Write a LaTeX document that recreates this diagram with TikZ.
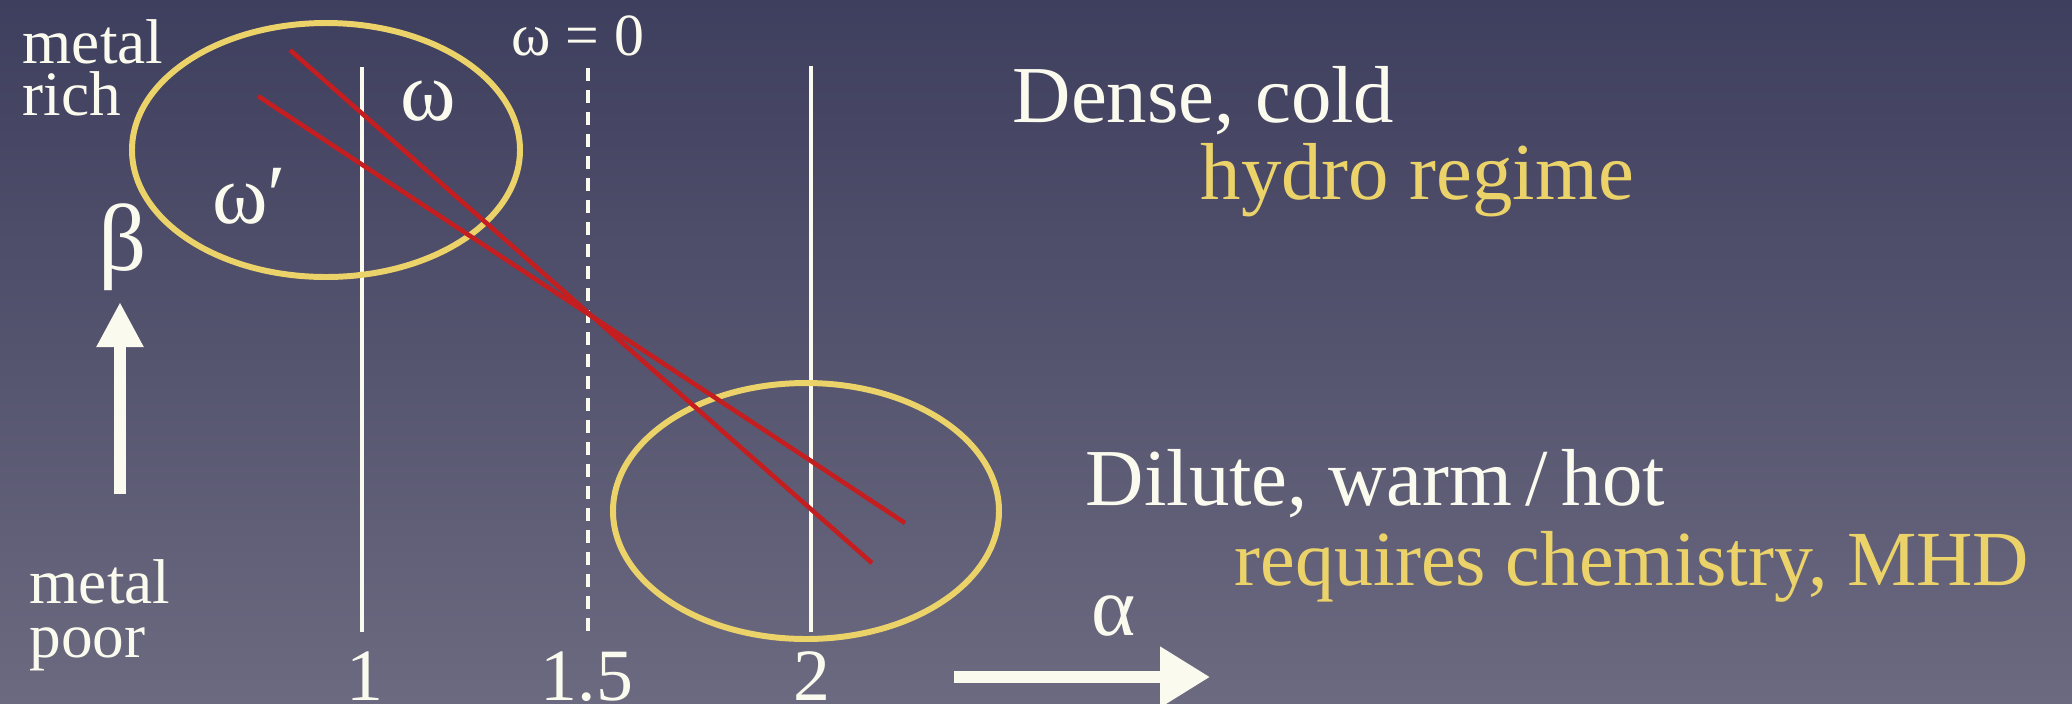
\documentclass[tikz,border=0pt]{standalone}
\usepackage{fontspec}
\setmainfont{Liberation Serif}
\usepackage{tikz}
\usetikzlibrary{arrows.meta}
\definecolor{BgTop}{RGB}{62,62,94}
\definecolor{BgBot}{RGB}{108,106,128}
\definecolor{Cream}{RGB}{250,250,238}
\definecolor{HiYellow}{RGB}{236,211,105}
\definecolor{LineRed}{RGB}{196,30,32}

\begin{document}
\begin{tikzpicture}[
          txt/.style={inner sep=0pt, text=Cream, font=\fontsize{23}{26}\selectfont},
          hi/.style={txt, text=HiYellow},
          lbl/.style={inner sep=0pt, text=Cream, font=\fontsize{18}{20}\selectfont},
          grk/.style={inner sep=0pt, text=Cream, font=\fontsize{24}{26}\selectfont},
          num/.style={grk, font=\fontsize{21}{24}\selectfont},
          vline/.style={Cream, line width=1.1pt},
          track/.style={LineRed, line width=1.3pt},
          ring/.style={HiYellow, line width=1.7pt},
          bigarr/.style={Cream, line width=3.3pt}
        ]
        \useasboundingbox (0,0) rectangle (20.72,7.03);
        \fill[top color=BgTop, bottom color=BgBot] (0,0) rectangle (20.72,7.03);

        % alpha grid lines
        \coordinate (a1t) at (3.62,6.36);  \coordinate (a1b) at (3.62,0.71);
        \coordinate (a15t) at (5.88,6.35); \coordinate (a15b) at (5.88,0.71);
        \coordinate (a2t) at (8.11,6.37);  \coordinate (a2b) at (8.11,0.71);
        \draw[vline] (a1t) -- (a1b);
        \draw[vline, dash pattern=on 0.13cm off 0.09cm] (a15t) -- (a15b);
        \draw[vline] (a2t) -- (a2b);

        \node[num, anchor=base] (n1)  at (3.65,0.03) {1};
        \node[num, anchor=base] (n15) at (5.87,0.03) {1.5};
        \node[num, anchor=base] (n2)  at (8.12,0.03) {2};
        \node[inner sep=0pt, text=Cream, font=\fontsize{17}{19}\selectfont,
              anchor=base west] (w0) at (5.11,6.48) {ω = 0};

        % regimes
        \coordinate (cold) at (3.26,5.53);
        \coordinate (warm) at (8.06,1.92);
        \draw[ring] (cold) ellipse [x radius=1.94cm, y radius=1.27cm];
        \draw[ring] (warm) ellipse [x radius=1.93cm, y radius=1.28cm];

        \coordinate (wA) at (2.90,6.53); \coordinate (wAend) at (8.72,1.40);
        \coordinate (wB) at (2.58,6.07); \coordinate (wBend) at (9.05,1.80);
        \draw[track] (wA) -- (wAend);
        \draw[track] (wB) -- (wBend);

        \node[grk, anchor=base] (om)  at (4.28,5.83) {ω};
        \node[grk, anchor=base] (omp) at (2.49,4.80) {ω′};

        % axes
        \node[lbl, anchor=base west] (rich1) at (0.22,6.40) {metal};
        \node[lbl, anchor=base west] (rich2) at (0.22,5.88) {rich};
        \node[lbl, anchor=base west] (poor1) at (0.29,1.00) {metal};
        \node[lbl, anchor=base west] (poor2) at (0.29,0.46) {poor};
        \node[grk, font=\fontsize{27}{30}\selectfont, anchor=base] (beta) at (1.23,4.33) {β};
        \coordinate (upTail) at (1.20,2.09);
        \coordinate (upTip)  at (1.20,4.01);
        \draw[bigarr, -{Triangle[width=0.44cm, length=0.45cm]}] (upTail) -- (upTip);
        \node[grk, anchor=base] (alpha) at (11.14,0.68) {α};
        \coordinate (rtTail) at (9.54,0.26);
        \coordinate (rtTip)  at (12.10,0.26);
        \draw[bigarr, -{Triangle[width=0.58cm, length=0.50cm]}] (rtTail) -- (rtTip);

        \node[txt, anchor=base west] (dense) at (10.12,5.81) {Dense, cold};
        \node[hi, anchor=base west]  (hydro) at (12.00,5.04) {hydro regime};
        \node[txt, anchor=base west] (dilute) at (10.85,1.98) {Dilute, warm\,/\,hot};
        \node[hi, font=\fontsize{22.2}{25}\selectfont, anchor=base west] (chem) at (12.34,1.18)
              {requires chemistry, MHD};
      \end{tikzpicture}
\end{document}
